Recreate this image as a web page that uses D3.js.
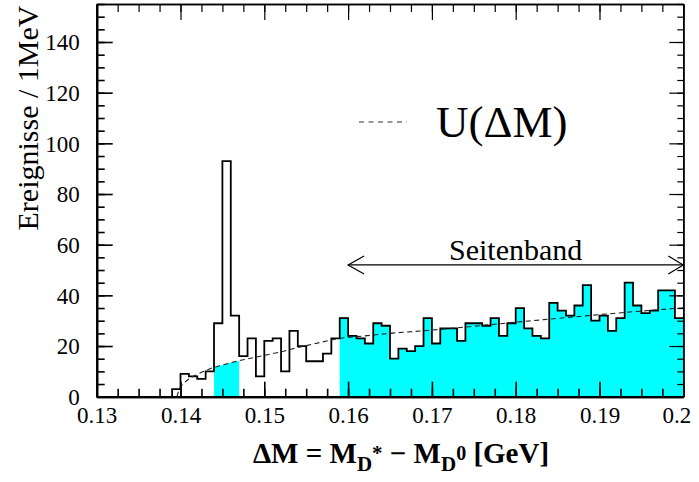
<!DOCTYPE html>
<html><head><meta charset="utf-8">
<script src="https://cdn.jsdelivr.net/npm/d3@7"></script>
<style>body{margin:0;background:#fff}svg{display:block}</style>
</head><body><svg id="c" width="699" height="482"></svg>
<script>
// ---- data ----
const xDomain = [0.13, 0.2];
const yDomain = [0, 155];
const xMajorTicks = [0.13, 0.14, 0.15, 0.16, 0.17, 0.18, 0.19, 0.2];
const xTickLabels = ["0.13", "0.14", "0.15", "0.16", "0.17", "0.18", "0.19", "0.2"];
const yMajorTicks = [0, 20, 40, 60, 80, 100, 120, 140];
const yTickLabels = ["0", "20", "40", "60", "80", "100", "120", "140"];
const binStart = 0.139;
const binWidth = 0.001;
const counts = [3, 9, 8, 7, 10, 29, 93, 32, 16, 23, 8, 22, 23, 10, 26, 20, 14, 14, 17, 23,
  31, 24, 23, 21, 29, 28, 15, 19, 18, 20, 31, 21, 27, 27, 22, 29, 29, 28, 31, 24,
  29, 35, 27, 24, 23, 37, 34, 32, 36, 44, 30, 32, 26, 31, 45, 36, 33, 34, 42, 42, 31];
const fitX = [0.13957, 0.1398, 0.1400, 0.1405, 0.141, 0.142, 0.143, 0.144, 0.145, 0.146, 0.147,
  0.148, 0.150, 0.152, 0.154, 0.156, 0.159, 0.162, 0.165, 0.170, 0.175, 0.180, 0.185, 0.190, 0.195, 0.200];
const fitY = [0, 2.4, 3.8, 5.6, 7.0, 8.8, 10.3, 11.6, 12.5, 13.4, 14.2,
  14.9, 16.3, 17.7, 19.4, 20.9, 23.0, 24.0, 25.0, 26.3, 27.8, 29.4, 30.9, 32.4, 33.8, 35.1];
const sidebandRange = [0.159, 0.2];
const peakFillRange = [0.144, 0.147];
const sidebandArrow = {x0: 0.16, x1: 0.2, y: 52, label: "Seitenband", labelX: 0.18};

// ---- layout ----
const svg = d3.select("#c");
const L = 96.7, R = 683.3, T = 4, B = 396.7;
const x = d3.scaleLinear().domain(xDomain).range([L, R]);
const y = d3.scaleLinear().domain(yDomain).range([B, T]);
const serif = '"Liberation Serif", "Times New Roman", serif';
const cyan = "#00ffff";

const bins = counts.map((c, i) => ({x: +(binStart + i * binWidth).toFixed(4), c}));
const stepPts = [{x: binStart, c: 0}].concat(bins, [{x: xDomain[1], c: counts[counts.length - 1]}]);
const fit = fitX.map((v, i) => ({x: v, y: fitY[i]}));

// sideband fill
const sb = bins.filter(d => d.x >= sidebandRange[0] - 1e-9).concat([{x: sidebandRange[1], c: counts[counts.length - 1]}]);
svg.append("path")
  .attr("d", d3.area().x(d => x(d.x)).y0(y(0)).y1(d => y(d.c)).curve(d3.curveStepAfter)(sb))
  .attr("fill", cyan);

// peak-region fill under fit
const pf = fit.filter(d => d.x >= peakFillRange[0] - 1e-9 && d.x <= peakFillRange[1] + 1e-9);
svg.append("path")
  .attr("d", d3.area().x(d => x(d.x)).y0(y(0)).y1(d => y(d.y)).curve(d3.curveMonotoneX)(pf))
  .attr("fill", cyan);

// histogram outline
svg.append("path")
  .attr("d", d3.line().x(d => x(d.x)).y(d => y(d.c)).curve(d3.curveStepAfter)(stepPts))
  .attr("fill", "none").attr("stroke", "#000").attr("stroke-width", 1.8);

// fit curve
svg.append("path")
  .attr("d", d3.line().x(d => x(d.x)).y(d => y(d.y)).curve(d3.curveMonotoneX)(fit))
  .attr("fill", "none").attr("stroke", "#222").attr("stroke-width", 1.1)
  .attr("stroke-dasharray", "5,3.5");

// ---- axes ----
const xMinor = d3.range(0, 29).map(i => +(0.13 + i * 0.0025).toFixed(5));
const yMinor = d3.range(0, 32).map(i => i * 5);
function styleAxis(g, w) {
  g.select(".domain").attr("stroke-width", w);
  g.selectAll(".tick line").attr("stroke-width", w > 1.6 ? 1.6 : 1.2);
}
// bottom
svg.append("g").attr("transform", `translate(0,${B})`)
  .call(d3.axisBottom(x).tickValues(xMinor).tickSizeInner(-8).tickSizeOuter(0).tickFormat(""))
  .call(g => styleAxis(g, 2.2));
const bx = svg.append("g").attr("transform", `translate(0,${B})`)
  .call(d3.axisBottom(x).tickValues(xMajorTicks).tickSizeInner(-15).tickSizeOuter(0)
    .tickFormat((d, i) => xTickLabels[i]).tickPadding(0))
  .call(g => styleAxis(g, 2.2));
bx.selectAll(".tick text").style("font-family", serif).style("font-size", "23px")
  .attr("y", 26).attr("dy", 0).attr("fill", "#000")
  .attr("dx", (d, i) => i === xMajorTicks.length - 1 ? -7 : 0);
// top
svg.append("g").attr("transform", `translate(0,${T})`)
  .call(d3.axisTop(x).tickValues(xMinor).tickSizeInner(-8).tickSizeOuter(0).tickFormat(""))
  .call(g => styleAxis(g, 1.4));
svg.append("g").attr("transform", `translate(0,${T})`)
  .call(d3.axisTop(x).tickValues(xMajorTicks).tickSizeInner(-16).tickSizeOuter(0).tickFormat(""))
  .call(g => styleAxis(g, 1.4));
// left
svg.append("g").attr("transform", `translate(${L},0)`)
  .call(d3.axisLeft(y).tickValues(yMinor).tickSizeInner(-8).tickSizeOuter(0).tickFormat(""))
  .call(g => styleAxis(g, 2.2));
const ly = svg.append("g").attr("transform", `translate(${L},0)`)
  .call(d3.axisLeft(y).tickValues(yMajorTicks).tickSizeInner(-16).tickSizeOuter(0)
    .tickFormat((d, i) => yTickLabels[i]).tickPadding(0))
  .call(g => styleAxis(g, 2.2));
ly.selectAll(".tick text").style("font-family", serif).style("font-size", "23px")
  .attr("x", -17).attr("dy", "0.34em").attr("fill", "#000");
// right
svg.append("g").attr("transform", `translate(${R},0)`)
  .call(d3.axisRight(y).tickValues(yMinor).tickSizeInner(-6).tickSizeOuter(0).tickFormat(""))
  .call(g => styleAxis(g, 1.6));
svg.append("g").attr("transform", `translate(${R},0)`)
  .call(d3.axisRight(y).tickValues(yMajorTicks).tickSizeInner(-14).tickSizeOuter(0).tickFormat(""))
  .call(g => styleAxis(g, 1.6));

// ---- titles ----
svg.append("text").attr("transform", "translate(38,118) rotate(-90)")
  .attr("text-anchor", "middle").style("font-family", serif).style("font-size", "30px")
  .text("Ereignisse / 1MeV");

const xt = svg.append("text").attr("x", 401).attr("y", 463).attr("text-anchor", "middle")
  .style("font-family", serif).style("font-size", "29px").style("font-weight", "bold");
xt.append("tspan").text("ΔM = M");
xt.append("tspan").style("font-size", "21px").attr("dy", 8).text("D");
xt.append("tspan").style("font-size", "21px").attr("dy", -11).text("*");
xt.append("tspan").attr("dy", 3).text(" − M");
xt.append("tspan").style("font-size", "21px").attr("dy", 8).text("D");
xt.append("tspan").style("font-size", "20px").attr("dy", -11).text("0");
xt.append("tspan").attr("dy", 3).text(" [GeV]");

// ---- legend ----
svg.append("line").attr("x1", 359).attr("x2", 407).attr("y1", 122).attr("y2", 122)
  .attr("stroke", "#333").attr("stroke-width", 1.1).attr("stroke-dasharray", "5,4.5");
svg.append("text").attr("x", 436).attr("y", 137).style("font-family", serif).style("font-size", "45px")
  .text("U(ΔM)");

// ---- sideband arrow ----
const ay = y(sidebandArrow.y), ax0 = x(sidebandArrow.x0), ax1 = x(sidebandArrow.x1);
svg.append("line").attr("x1", ax0).attr("x2", ax1).attr("y1", ay).attr("y2", ay)
  .attr("stroke", "#000").attr("stroke-width", 1.3);
svg.append("path").attr("d", `M${ax0 + 16},${ay - 9}L${ax0},${ay}L${ax0 + 16},${ay + 9}`)
  .attr("fill", "none").attr("stroke", "#000").attr("stroke-width", 1.2);
svg.append("path").attr("d", `M${ax1 - 15},${ay - 9}L${ax1},${ay}L${ax1 - 15},${ay + 9}`)
  .attr("fill", "none").attr("stroke", "#000").attr("stroke-width", 1.2);
svg.append("text").attr("x", x(sidebandArrow.labelX)).attr("y", ay - 5).attr("text-anchor", "middle")
  .style("font-family", serif).style("font-size", "30px").text(sidebandArrow.label);
</script></body></html>
